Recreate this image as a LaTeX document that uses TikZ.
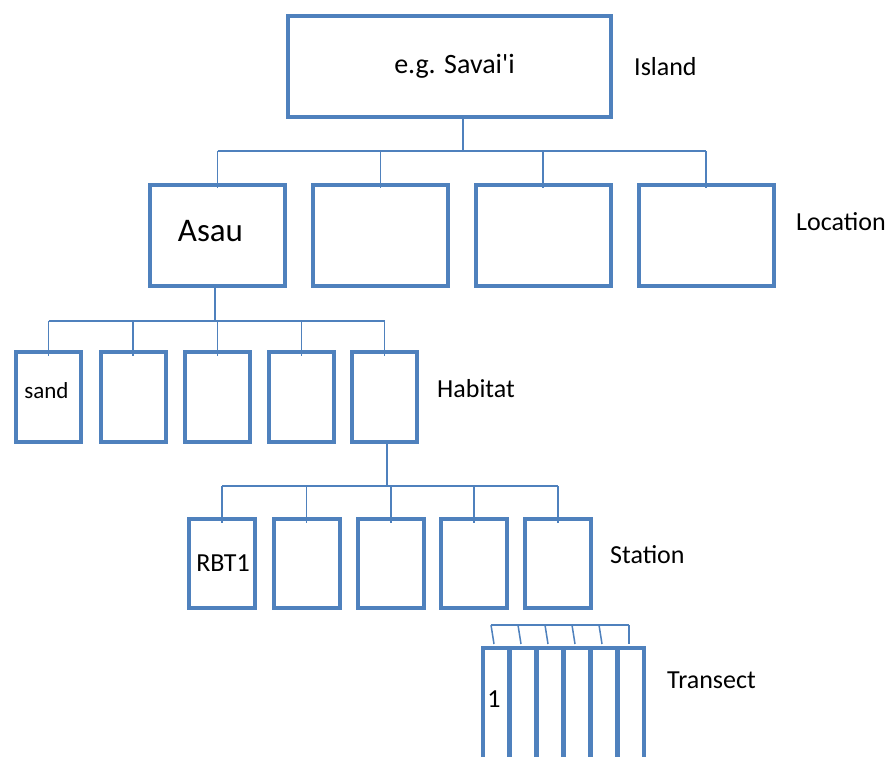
\documentclass[tikz,border=0pt]{standalone}
\usepackage{fontspec}
\setmainfont{Carlito}[Ligatures=TeXOff]
\usetikzlibrary{calc}
\definecolor{obl}{HTML}{4F81BD}
\begin{document}
\begin{tikzpicture}[x=1pt,y=-1pt,
  box/.style={draw=obl, line width=4pt, rectangle, inner sep=0pt, fill=white},
  link/.style={draw=obl, line width=1.5pt},
  lab/.style={font=\fontsize{26}{30}\selectfont, anchor=base west, inner sep=0pt, text=black},
  txt/.style={font=\fontsize{26}{30}\selectfont, anchor=base, inner sep=0pt, text=black}]
\clip (0,0) rectangle (890,756);
\fill[white] (0,0) rectangle (890,756);

% Island
\node[box, minimum width=323pt, minimum height=101pt] (isl) at (449.5,66.5) {};
\node[txt, font=\fontsize{28}{32}\selectfont] (isltxt) at (454.5,73) {e.g. Savai'i};
\node[lab] (labisl) at (634,75.5) {Island};

% Locations
\foreach \i/\x in {1/217.5,2/380.5,3/543,4/706}{
  \node[box, minimum width=135pt, minimum height=101pt] (loc\i) at (\x,235.5) {};
}
\node[txt, font=\fontsize{33}{38}\selectfont] (asau) at (210.5,241) {Asau};
\node[lab] (labloc) at (796,230.5) {Location};

% Habitats
\foreach \i/\x in {1/48.5,2/133,3/217.5,4/301.5,5/384.5}{
  \node[box, minimum width=65pt, minimum height=90pt] (hab\i) at (\x,397) {};
}
\node[txt, font=\fontsize{23}{27}\selectfont] (sand) at (46.5,398) {sand};
\node[lab] (labhab) at (437,397.5) {Habitat};

% Stations
\foreach \i/\x in {1/222,2/306.5,3/391,4/474,5/558}{
  \node[box, minimum width=66pt, minimum height=89pt] (st\i) at (\x,563.5) {};
}
\node[txt] (rbt) at (223,571) {RBT1};
\node[lab] (labst) at (610,563.5) {Station};

% Transects
\foreach \i in {1,...,6}{
  \node[box, minimum width=26pt, minimum height=142pt] (tr\i) at ({496+27*(\i-1)},719) {};
}
\node[txt] (one) at (494,707) {1};
\node[lab] (labtr) at (667,688) {Transect};

% Island -> locations
\coordinate (ibus) at (463,151);
\draw[link] ($(isl.south)+(13.5,-4)$) -- (ibus);
\draw[link] (loc1.north |- ibus) -- (loc4.north |- ibus);
\foreach \i in {1,...,4}{
  \draw[link] (loc\i.north |- ibus) -- ([yshift=-5pt]loc\i.north);
}

% Asau -> habitats
\coordinate (hbus) at (215,321);
\draw[link] ($(loc1.south)+(-2.5,-2)$) -- (hbus);
\draw[link] (hab1.north |- hbus) -- (hab5.north |- hbus);
\foreach \i in {1,...,5}{
  \draw[link] (hab\i.north |- hbus) -- ([yshift=-6pt]hab\i.north);
}

% Habitat 5 -> stations
\coordinate (sbus) at (387,486);
\draw[link] ($(hab5.south)+(2.5,-2)$) -- (sbus);
\draw[link] (st1.north |- sbus) -- (st5.north |- sbus);
\foreach \i in {1,...,5}{
  \draw[link] (st\i.north |- sbus) -- ([yshift=-6pt]st\i.north);
}

% Station 5 -> transects
\coordinate (tstart) at ($(tr1.north)+(-5,-21)$);
\coordinate (tend) at ($(tr6.north)+(-2,-21)$);
\draw[link] ($(st5.south)+(-4,-2)$) -- ($(st5.south)+(-4,0)$ |- tstart);
\draw[link] (tstart) -- (tend);
\foreach \i in {1,...,5}{
  \draw[link] ($(tr\i.north)+(-5,-21)$) -- ($(tr\i.north)+(-2,-2)$);
}
\draw[link] (tend) -- ($(tr6.north)+(-2,-2)$);
\end{tikzpicture}
\end{document}
